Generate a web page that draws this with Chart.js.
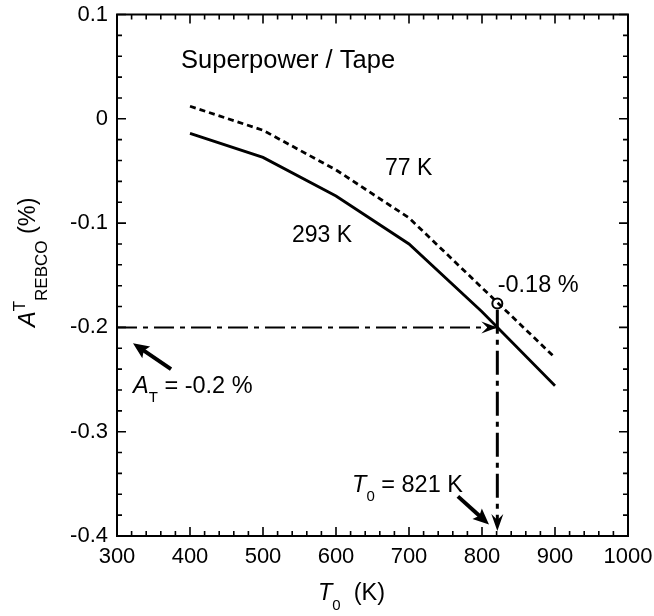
<!DOCTYPE html>
<html><head><meta charset="utf-8">
<script src="https://cdn.jsdelivr.net/npm/chart.js@4.4.0/dist/chart.umd.min.js"></script>
<style>html,body{margin:0;padding:0;background:#fff;}canvas{display:block;}</style>
</head><body>
<canvas id="c" width="654" height="616"></canvas>
<script>
// ---- data ----
const temperatures = [400, 500, 600, 700, 800, 900];          // T0 (K)
const strain293K   = [-0.014, -0.037, -0.074, -0.120, -0.185, -0.256];
const strain77K    = [0.012, -0.011, -0.049, -0.095, -0.162, -0.229];
const targetStrain = -0.2;     // A_T (%)
const targetTemp   = 821;      // T0 (K)
const strainAtT0   = -0.177;   // 77 K curve value at T0 (labelled -0.18 %)
const xRange = [300, 1000];
const yRange = [-0.4, 0.1];
const xTickLabels = ['300','400','500','600','700','800','900','1000'];
const yTickLabels = ['0.1','0','-0.1','-0.2','-0.3','-0.4'];

const FONT = '"Liberation Sans", Arial, Helvetica, sans-serif';

const pts = (xs, ys) => xs.map((x, i) => ({x, y: ys[i]}));

// annotation layout (data units)
const texts = [
  {x: 387.7, y: 0.0487, size: 25.5, runs: [{t: 'Superpower / Tape'}]},
  {x: 667,   y: -0.054, size: 23, runs: [{t: '77 K'}]},
  {x: 539.7, y: -0.1183, size: 23, runs: [{t: '293 K'}]},
  {x: 821.5, y: -0.1663, size: 23.5, runs: [{t: '-0.18 %'}]},
  {x: 322,   y: -0.263, size: 23.5, runs: [{t: 'A', it: true}, {t: 'T', sub: true}, {t: ' = -0.2 %'}]},
  {x: 622,   y: -0.358, size: 23.5, runs: [{t: 'T', it: true}, {t: '0', sub: true}, {t: ' = 821 K'}]}
];
const bigArrows = [
  {from: [374, -0.240], to: [321.9, -0.2153]},
  {from: [767, -0.362], to: [809.6, -0.389]}
];

function drawRuns(ctx, x, y, runs, size, subSize, subDy, supDy) {
  let cx = x;
  runs.forEach(r => {
    const small = r.sub || r.sup;
    const fs = small ? subSize : size;
    ctx.font = (r.it ? 'italic ' : '') + fs + 'px ' + FONT;
    const dy = r.sub ? subDy : (r.sup ? supDy : 0);
    ctx.fillText(r.t, cx + (r.dx || 0), y + dy);
    cx += ctx.measureText(r.t).width + (r.dx || 0);
  });
}

function arrowHead(ctx, tx, ty, ang, len, half, notch) {
  ctx.save();
  ctx.translate(tx, ty);
  ctx.rotate(ang);
  ctx.beginPath();
  ctx.moveTo(0, 0);
  ctx.lineTo(-len, -half);
  ctx.lineTo(-notch, 0);
  ctx.lineTo(-len, half);
  ctx.closePath();
  ctx.fill();
  ctx.restore();
}

const decor = {
  id: 'decor',
  afterDatasetsDraw(chart) {
    const {ctx, chartArea: a, scales: {x, y}} = chart;
    ctx.save();
    ctx.fillStyle = '#000';
    ctx.strokeStyle = '#000';
    // guide arrowheads
    const hx = x.getPixelForValue(targetTemp), hy = y.getPixelForValue(targetStrain);
    arrowHead(ctx, hx, hy, 0, 16, 6, 10);
    arrowHead(ctx, hx, a.bottom - 5, Math.PI / 2, 17, 6, 11);
    // axes frame
    ctx.lineWidth = 2;
    ctx.strokeRect(a.left, a.top, a.right - a.left, a.bottom - a.top);
    // inward ticks on all sides
    ctx.lineWidth = 1.6;
    ctx.beginPath();
    for (let v = xRange[0]; v <= xRange[1] + 0.01; v += 20) {
      const px = x.getPixelForValue(v);
      const L = (Math.round(v) % 100 === 0) ? 9 : 5;
      ctx.moveTo(px, a.bottom); ctx.lineTo(px, a.bottom - L);
      ctx.moveTo(px, a.top); ctx.lineTo(px, a.top + L);
    }
    for (let k = 0; k <= 25; k++) {
      const v = yRange[0] + k * 0.02;
      const py = y.getPixelForValue(v);
      const L = (k % 5 === 0) ? 9 : 5;
      ctx.moveTo(a.left, py); ctx.lineTo(a.left + L, py);
      ctx.moveTo(a.right, py); ctx.lineTo(a.right - L, py);
    }
    ctx.stroke();
    // annotation arrows
    bigArrows.forEach(ar => {
      const fx = x.getPixelForValue(ar.from[0]), fy = y.getPixelForValue(ar.from[1]);
      const tx = x.getPixelForValue(ar.to[0]), ty = y.getPixelForValue(ar.to[1]);
      const ang = Math.atan2(ty - fy, tx - fx);
      ctx.lineWidth = 4;
      ctx.beginPath();
      ctx.moveTo(fx, fy);
      ctx.lineTo(tx - 10 * Math.cos(ang), ty - 10 * Math.sin(ang));
      ctx.stroke();
      arrowHead(ctx, tx, ty, ang, 16, 7, 13);
    });
    // annotation texts
    ctx.textBaseline = 'alphabetic';
    ctx.textAlign = 'left';
    texts.forEach(t => {
      drawRuns(ctx, x.getPixelForValue(t.x), y.getPixelForValue(t.y), t.runs, t.size, 15, 9, -10);
    });
    // x axis title
    drawRuns(ctx, 318, 600, [{t: 'T', it: true}, {t: '0', sub: true}, {t: '  (K)'}], 23.5, 15, 10, 0);
    // y axis title (rotated)
    ctx.translate(35, 327);
    ctx.rotate(-Math.PI / 2);
    drawRuns(ctx, 0, 0, [{t: 'A', it: true}, {t: 'T', sup: true}, {t: 'REBCO', sub: true}, {t: ' (%)'}], 23.5, 17, 12, -10);
    ctx.restore();
  }
};

new Chart(document.getElementById('c'), {
  type: 'line',
  data: {
    datasets: [
      {label: '293 K', data: pts(temperatures, strain293K), borderColor: '#000', borderWidth: 2.8,
       pointRadius: 0, tension: 0, fill: false},
      {label: '77 K', data: pts(temperatures, strain77K), borderColor: '#000', borderWidth: 2.8,
       borderDash: [6, 4], pointRadius: 0, tension: 0, fill: false},
      {label: 'A_T guide', data: [{x: xRange[0], y: targetStrain}, {x: targetTemp - 2, y: targetStrain}],
       borderColor: '#000', borderWidth: 2, borderDash: [20, 6, 5, 6], pointRadius: 0, fill: false},
      {label: 'T0 guide', data: [{x: targetTemp, y: strainAtT0 - 0.006}, {x: targetTemp, y: yRange[0] + 0.012}],
       borderColor: '#000', borderWidth: 3, borderDash: [24, 6, 5, 6], pointRadius: 0, fill: false},
      {label: 'marker', data: [{x: targetTemp, y: strainAtT0}], showLine: false,
       pointRadius: 5, pointBorderWidth: 2, pointBackgroundColor: '#fff', pointBorderColor: '#000'}
    ]
  },
  options: {
    responsive: false,
    animation: false,
    devicePixelRatio: 1,
    layout: {padding: {top: 14.5, right: 26, left: 0, bottom: 0}},
    plugins: {legend: {display: false}, tooltip: {enabled: false}},
    scales: {
      x: {
        type: 'linear', min: xRange[0], max: xRange[1],
        afterFit: s => { s.height = 80; s.paddingLeft = 0; s.paddingRight = 0; },
        afterBuildTicks: s => { s.ticks = xTickLabels.map(v => ({value: Number(v)})); },
        grid: {display: false, drawTicks: false},
        border: {display: false},
        ticks: {padding: 8, color: '#000', font: {family: FONT, size: 22},
                callback: (v) => xTickLabels[xTickLabels.indexOf(String(v))] ?? String(v)}
      },
      y: {
        type: 'linear', min: yRange[0], max: yRange[1],
        afterFit: s => { s.width = 117; s.paddingTop = 0; s.paddingBottom = 0; },
        afterBuildTicks: s => { s.ticks = yTickLabels.map(v => ({value: Number(v)})); },
        grid: {display: false, drawTicks: false},
        border: {display: false},
        ticks: {padding: 9, color: '#000', font: {family: FONT, size: 22},
                callback: (v) => yTickLabels.find(l => Math.abs(Number(l) - v) < 1e-9) ?? String(v)}
      }
    }
  },
  plugins: [decor]
});
</script>
</body></html>
